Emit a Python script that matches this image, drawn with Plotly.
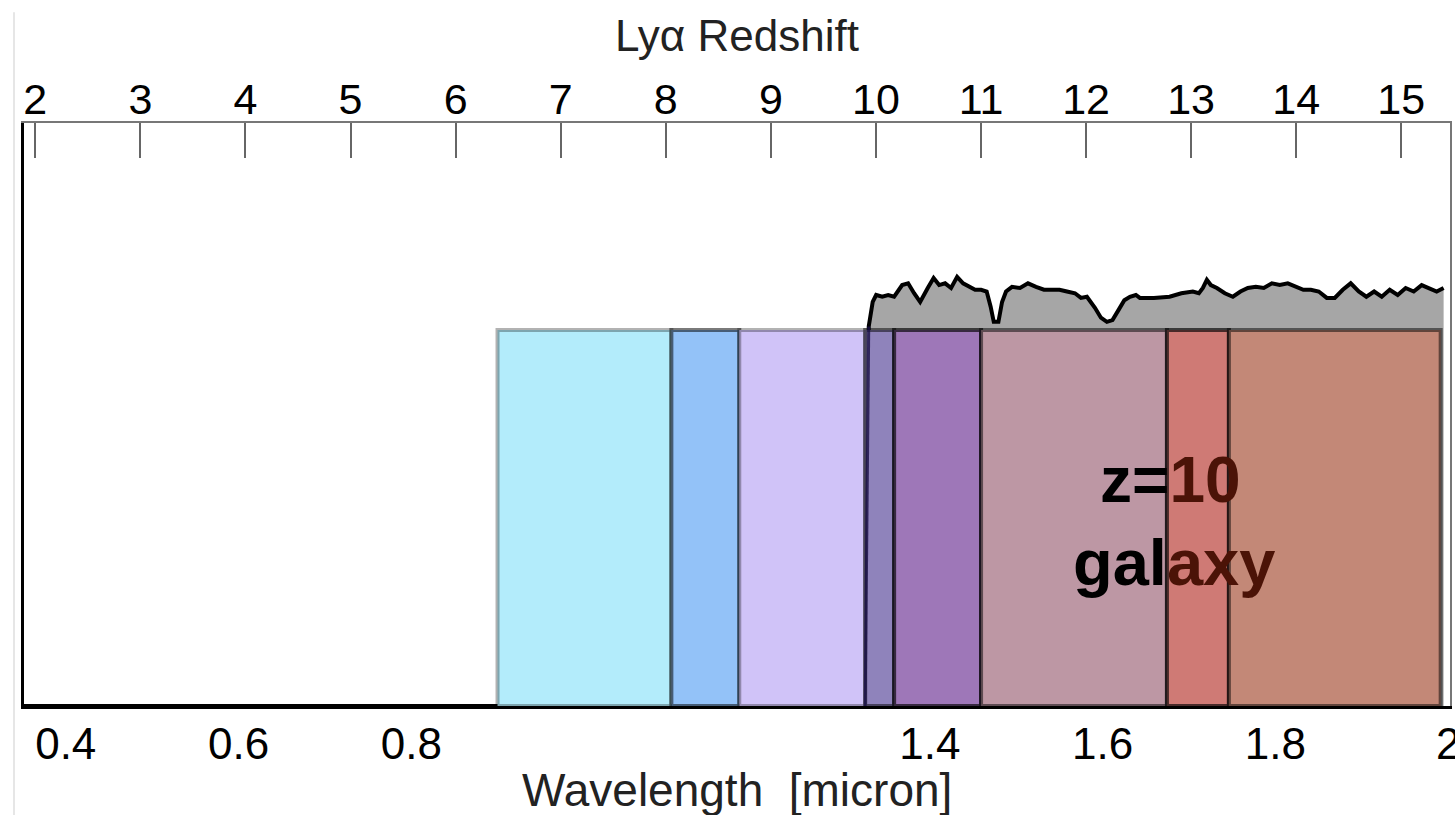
import plotly.graph_objects as go

# ---------------- data ----------------
# Spectrum of a z=10 galaxy (relative flux vs wavelength in micron)
spec_wl = [0.3517, 1.3252, 1.3293, 1.3339, 1.3379, 1.3449, 1.3518, 1.3587, 1.3680, 1.3749,
           1.3818, 1.3888, 1.3976, 1.4044, 1.4108, 1.4177, 1.4246, 1.4316, 1.4385, 1.4454,
           1.4524, 1.4593, 1.4658, 1.4704, 1.4740, 1.4794, 1.4836, 1.4882, 1.4951, 1.5044,
           1.5136, 1.5229, 1.5321, 1.5409, 1.5501, 1.5587, 1.5680, 1.5749, 1.5818, 1.5911,
           1.5980, 1.6049, 1.6114, 1.6183, 1.6251, 1.6316, 1.6385, 1.6431, 1.6593, 1.6775,
           1.6911, 1.7044, 1.7114, 1.7160, 1.7206, 1.7252, 1.7322, 1.7414, 1.7507, 1.7595,
           1.7680, 1.7773, 1.7865, 1.7958, 1.8050, 1.8143, 1.8235, 1.8323, 1.8409, 1.8501,
           1.8594, 1.8686, 1.8779, 1.8871, 1.8964, 1.9052, 1.9142, 1.9230, 1.9322, 1.9415,
           1.9507, 1.9600, 1.9692, 1.9780, 1.9866, 1.9946]
spec_flux = [0.0, 0.0, 0.651, 0.693, 0.705, 0.702, 0.705, 0.702, 0.722, 0.725,
             0.708, 0.693, 0.717, 0.734, 0.722, 0.725, 0.717, 0.736, 0.725, 0.719,
             0.714, 0.714, 0.711, 0.685, 0.659, 0.659, 0.693, 0.711, 0.719, 0.717,
             0.725, 0.719, 0.714, 0.714, 0.714, 0.711, 0.708, 0.700, 0.702, 0.683,
             0.666, 0.659, 0.662, 0.679, 0.696, 0.702, 0.705, 0.700, 0.700, 0.702,
             0.708, 0.711, 0.708, 0.717, 0.731, 0.722, 0.717, 0.708, 0.702, 0.711,
             0.717, 0.719, 0.717, 0.725, 0.722, 0.725, 0.719, 0.714, 0.714, 0.711,
             0.700, 0.700, 0.714, 0.725, 0.711, 0.702, 0.711, 0.702, 0.714, 0.705,
             0.717, 0.711, 0.722, 0.717, 0.711, 0.717]

# Filter bands (micron)
band_lo = [0.8997, 1.1009, 1.1795, 1.3252, 1.3587, 1.4593, 1.6744, 1.7461]
band_hi = [1.1009, 1.1795, 1.3252, 1.3587, 1.4593, 1.6744, 1.7461, 1.9912]
band_top = 0.645
band_fill = ["#b3ecfb", "#93c2f8", "#d0c3f8", "#8f83bb", "#9e77b8", "#bd97a4", "#cf7a75", "#c38877"]
band_edge = ["rgba(0,0,0,0.30)", "rgba(0,0,0,0.52)", "rgba(0,0,0,0.30)", "rgba(0,0,0,0.50)",
             "rgba(0,0,0,0.65)", "rgba(0,0,0,0.50)", "rgba(0,0,0,0.65)", "rgba(0,0,0,0.50)"]

# Axis ticks
wl_ticks = [0.4, 0.6, 0.8, 1.4, 1.6, 1.8, 2.0]
wl_ticktext = ["0.4", "0.6", "0.8", "1.4", "1.6", "1.8", "2"]
redshifts = [2, 3, 4, 5, 6, 7, 8, 9, 10, 11, 12, 13, 14, 15]
LYA = 0.1216  # micron

XRANGE = [0.3517, 2.002]
FONT = "Liberation Sans, Arial, Helvetica, sans-serif"

fig = go.Figure()

# spectrum with grey fill
fig.add_trace(go.Scatter(x=spec_wl, y=spec_flux, mode="lines",
                         line=dict(color="black", width=4),
                         fill="tozeroy", fillcolor="#a6a6a6",
                         hoverinfo="skip", showlegend=False))

# filter bands
for lo, hi, fc, ec in zip(band_lo, band_hi, band_fill, band_edge):
    fig.add_trace(go.Scatter(x=[lo, lo, hi, hi, lo], y=[0, band_top, band_top, 0, 0],
                             mode="lines", fill="toself", fillcolor=fc,
                             line=dict(color=ec, width=4),
                             hoverinfo="skip", showlegend=False))

# Lyman break edge seen through the bands
fig.add_trace(go.Scatter(x=spec_wl[1:3], y=spec_flux[1:3], mode="lines",
                         line=dict(color="rgba(25,15,70,0.8)", width=3),
                         hoverinfo="skip", showlegend=False))

# dummy traces for top / right axes
fig.add_trace(go.Scatter(x=[XRANGE[0]], y=[0], xaxis="x2", mode="markers",
                         marker=dict(opacity=0), hoverinfo="skip", showlegend=False))
fig.add_trace(go.Scatter(x=[XRANGE[0]], y=[0], yaxis="y2", mode="markers",
                         marker=dict(opacity=0), hoverinfo="skip", showlegend=False))

fig.update_layout(
    width=1455, height=815,
    margin=dict(l=24, r=5, t=123, b=109, autoexpand=False),
    paper_bgcolor="white", plot_bgcolor="white",
    font=dict(family=FONT, color="black"),
    xaxis=dict(range=XRANGE, tickvals=wl_ticks, ticktext=wl_ticktext, automargin=False,
               showgrid=False, zeroline=False, showline=True, linecolor="black", linewidth=3,
               ticks="", tickfont=dict(size=44, family=FONT, color="black"),
               ticklabelstandoff=-3, ticklabeloverflow="allow"),
    xaxis2=dict(range=XRANGE, overlaying="x", side="top", automargin=False,
                tickvals=[LYA * (1 + z) for z in redshifts],
                ticktext=[str(z) for z in redshifts],
                showgrid=False, zeroline=False, showline=True, linecolor="#777777", linewidth=2,
                ticks="inside", ticklen=35, tickwidth=2, tickcolor="#666666",
                tickfont=dict(size=43, family=FONT, color="black"),
                ticklabelstandoff=-10),
    yaxis=dict(range=[0, 1], showgrid=False, zeroline=False, showticklabels=False,
               showline=True, linecolor="black", linewidth=3, ticks=""),
    yaxis2=dict(range=[0, 1], overlaying="y", side="right", showgrid=False, zeroline=False,
                showticklabels=False, showline=True, linecolor="#777777", linewidth=2, ticks=""),
    shapes=[dict(type="line", xref="paper", yref="paper", x0=-0.007, x1=-0.007,
                 y0=1.19, y1=-0.19, line=dict(color="#e6e6e6", width=2))],
    annotations=[
        dict(text="Lyα Redshift", xref="paper", yref="paper", x=0.5, y=1.150,
             xanchor="center", yanchor="middle", showarrow=False,
             font=dict(size=44, family=FONT, color="#222222")),
        dict(text="Wavelength  [micron]", xref="paper", yref="paper", x=0.5, y=-0.144,
             xanchor="center", yanchor="middle", showarrow=False,
             font=dict(size=46, family=FONT, color="#222222")),
        dict(text="<b>z=<span style='color:#4b1307'>10</span></b>", xref="x", yref="y",
             x=1.679, y=0.388, xanchor="center", yanchor="middle", showarrow=False,
             font=dict(size=64, family=FONT, color="black")),
        dict(text="<b>gal<span style='color:#4b1307'>axy</span></b>", xref="x", yref="y",
             x=1.6824, y=0.247, xanchor="center", yanchor="middle", showarrow=False,
             font=dict(size=65, family=FONT, color="black")),
    ],
)

fig.write_html("out.html")
